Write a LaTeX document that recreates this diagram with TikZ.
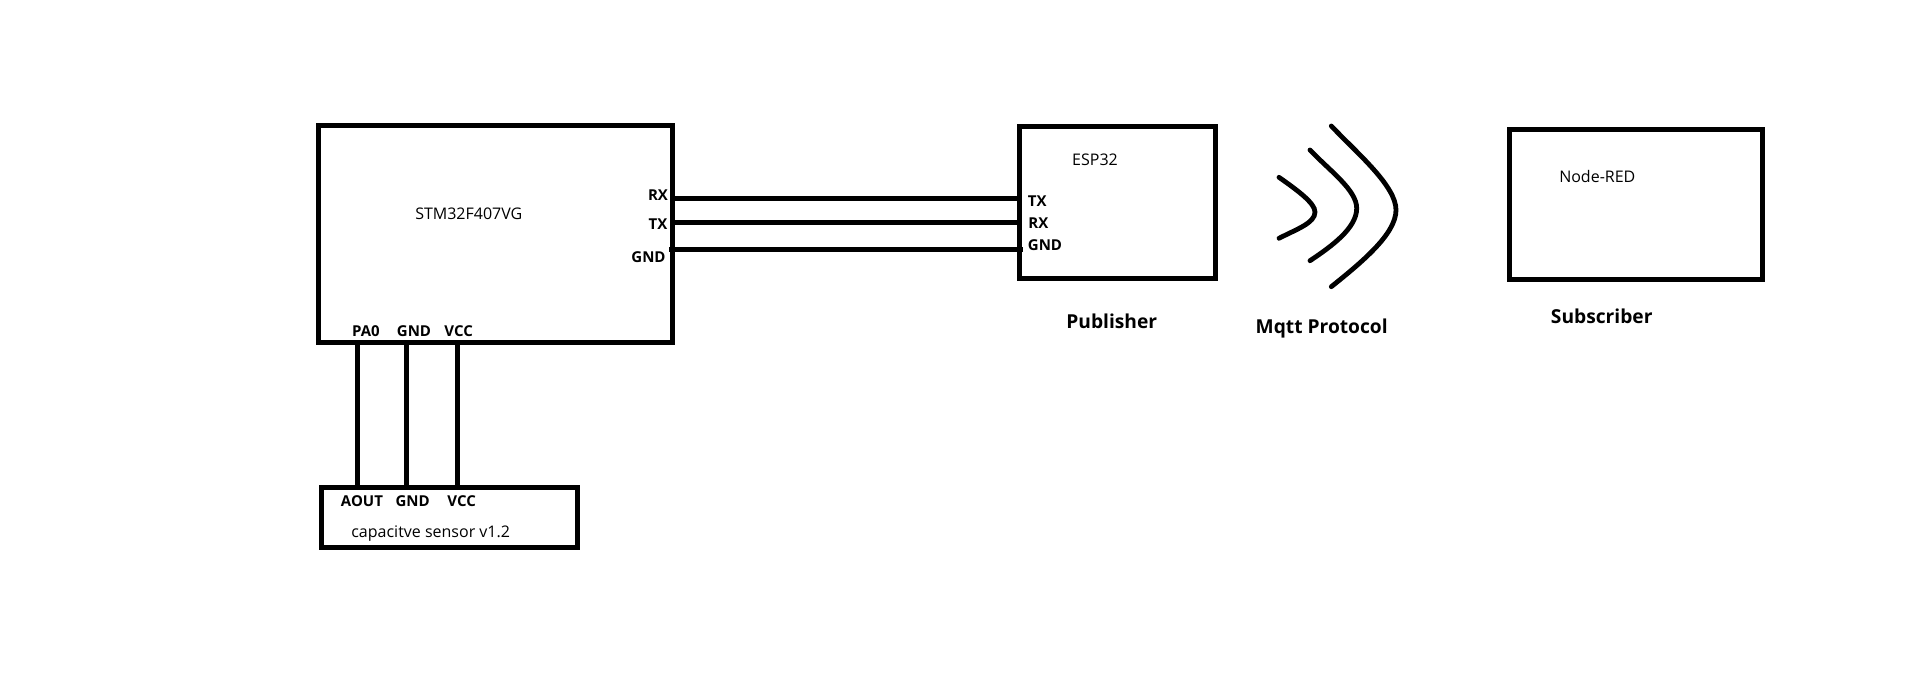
\documentclass[tikz,border=0pt]{standalone}
\usepackage{fontspec}
\setmainfont{Open Sans}
\tikzset{
    boxnode/.style={draw=black,rectangle,line width=5pt,inner sep=0pt,outer sep=0pt},
    wire/.style={black,line width=5pt},
    wave/.style={black,line width=4.8pt,line cap=round},
    chiplabel/.style={anchor=base,inner sep=0pt,font=\fontsize{16}{19}\selectfont},
    pinlabel/.style={anchor=base,inner sep=0pt,font=\fontsize{15}{18}\selectfont\bfseries},
    rolelabel/.style={anchor=base,inner sep=0pt,font=\fontsize{19.2}{23}\selectfont\bfseries}
}

\begin{document}
\begin{tikzpicture}[x=1pt,y=-1pt]
    \useasboundingbox (0,0) rectangle (1914,681);

    % Boxes
    \node[boxnode,minimum width=354.4pt,minimum height=216.8pt] (mcu) at (495.5,233.9) {};
    \node[boxnode,minimum width=256.4pt,minimum height=59.6pt] (sensor) at (449.5,517.5) {};
    \node[boxnode,minimum width=196pt,minimum height=151.6pt] (esp) at (1117.3,202.5) {};
    \node[boxnode,minimum width=253pt,minimum height=150pt] (subscriber) at (1635.8,204.3) {};

    % Text inside the boxes
    \node[chiplabel] (mcuname) at (468.8,219) {STM32F407VG};
    \node[chiplabel] (sensorname) at (430.7,537.3) {capacitve sensor v1.2};
    \node[chiplabel] (espname) at (1095,165) {ESP32};
    \node[chiplabel] (subscribername) at (1597.3,182.3) {Node-RED};

    % Pin names
    \foreach \pinname/\pinx/\piny/\pintext in {
        mcurxtext/658/200/RX, mcutxtext/658/229/TX, mcugndtext/648.5/262.3/GND,
        mcuatext/366/336/PA0, mcugtext/414/336/GND, mcuvtext/458.7/336/VCC,
        sensoratext/362/506/AOUT, sensorgtext/412.7/506/GND, sensorvtext/461.7/506/VCC,
        esptxtext/1037.3/206/TX, esprxtext/1038.3/228.3/RX, espgndtext/1045/250/GND} {
        \node[pinlabel] (\pinname) at (\pinx,\piny) {\pintext};
    }

    % Captions
    \node[rolelabel] (publishertext) at (1111.7,328.3) {Publisher};
    \node[rolelabel] (protocoltext) at (1321.7,333.3) {Mqtt Protocol};
    \node[rolelabel] (subscribertext) at (1601.7,323.3) {Subscriber};

    % Wire ends
    \coordinate (mcurx) at (672.7,198.3);
    \coordinate (mcutx) at (672.7,222.3);
    \coordinate (mcugnd) at (669,249.3);
    \coordinate (esptx) at (1019.3,198.3);
    \coordinate (esprx) at (1019.3,222.3);
    \coordinate (espgnd) at (1022.5,249.3);
    \coordinate (mcua) at (357.7,342.3);
    \coordinate (mcug) at (406.3,342.3);
    \coordinate (mcuv) at (457.3,342.3);
    \coordinate (sensora) at (357.7,487.7);
    \coordinate (sensorg) at (406.3,487.7);
    \coordinate (sensorv) at (457.3,487.7);

    % Draw wires
    \foreach \from/\to in {mcurx/esptx,mcutx/esprx,mcugnd/espgnd,mcua/sensora,mcug/sensorg,mcuv/sensorv} {
        \draw[wire] (\from) -- (\to);
    }

    % Radio waves
    \draw[wave] (1279,177.3) .. controls (1297,190) and (1315,203) .. (1315,212) .. controls (1315,223) and (1297,229) .. (1279,238.3);
    \draw[wave] (1310,150) .. controls (1330,171) and (1356.7,190) .. (1356.7,208.3) .. controls (1356.7,228) and (1332,246) .. (1310,260.7);
    \draw[wave] (1331.3,126) .. controls (1358,154) and (1396,186) .. (1396,210) .. controls (1396,234) and (1362,262) .. (1331.3,286.7);
\end{tikzpicture}
\end{document}
